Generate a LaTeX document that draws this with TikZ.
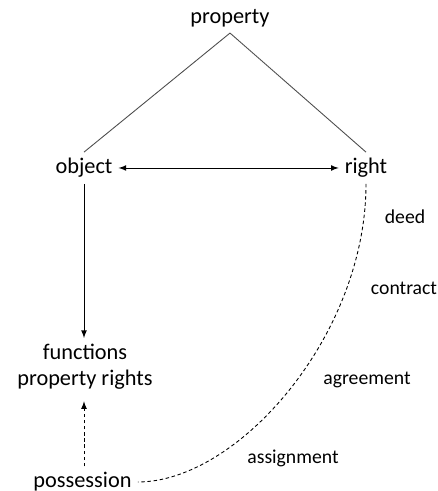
\documentclass[tikz,border=0pt]{standalone}
\usepackage{fontspec}
\setmainfont{Carlito}
\usepackage{tikz}
\usetikzlibrary{arrows}
\usetikzlibrary{positioning}

\begin{document}
\begin{tikzpicture}[
  term/.style={font=\fontsize{12.7}{15}\selectfont},
  means/.style={font=\fontsize{11.2}{13}\selectfont},
  branch/.style={draw=black!70, line width=0.5pt},
  link/.style={draw, line width=0.5pt, -latex},
  loose/.style={draw, line width=0.5pt, dash pattern=on 2pt off 1.5pt}]
  \useasboundingbox (0,0) rectangle (8.76,9.82);
  \node[term] (prop) at (4.6,9.46) {property};
  \node[term] (obj) at (1.68,6.46) {object};
  \node[term] (rgt) at (7.32,6.46) {right};
  \node[term, align=center] (func) at (1.7,2.48) {functions\\property rights};
  \node[term] (poss) at (1.65,0.18) {possession};
  \node[means] (deed) at (8.1,5.48) {deed};
  \node[means] (contr) at (8.08,4.06) {contract};
  \node[means] (agree) at (7.34,2.22) {agreement};
  \node[means] (assign) at (5.86,0.66) {assignment};
  \draw[branch] (prop.south) -- (obj.north);
  \draw[branch] (prop.south) -- (rgt.north);
  \draw[link, latex-latex] (obj.east) -- (rgt.west);
  \draw[link] (obj.south) -- (obj.south |- func.north);
  \draw[link, loose, shorten >=3pt] (obj |- poss.north) -- (obj |- func.south);
  \draw[loose] (rgt.south) .. controls +(0,-3.04) and +(2.0,0) .. (poss.east);
\end{tikzpicture}
\end{document}
